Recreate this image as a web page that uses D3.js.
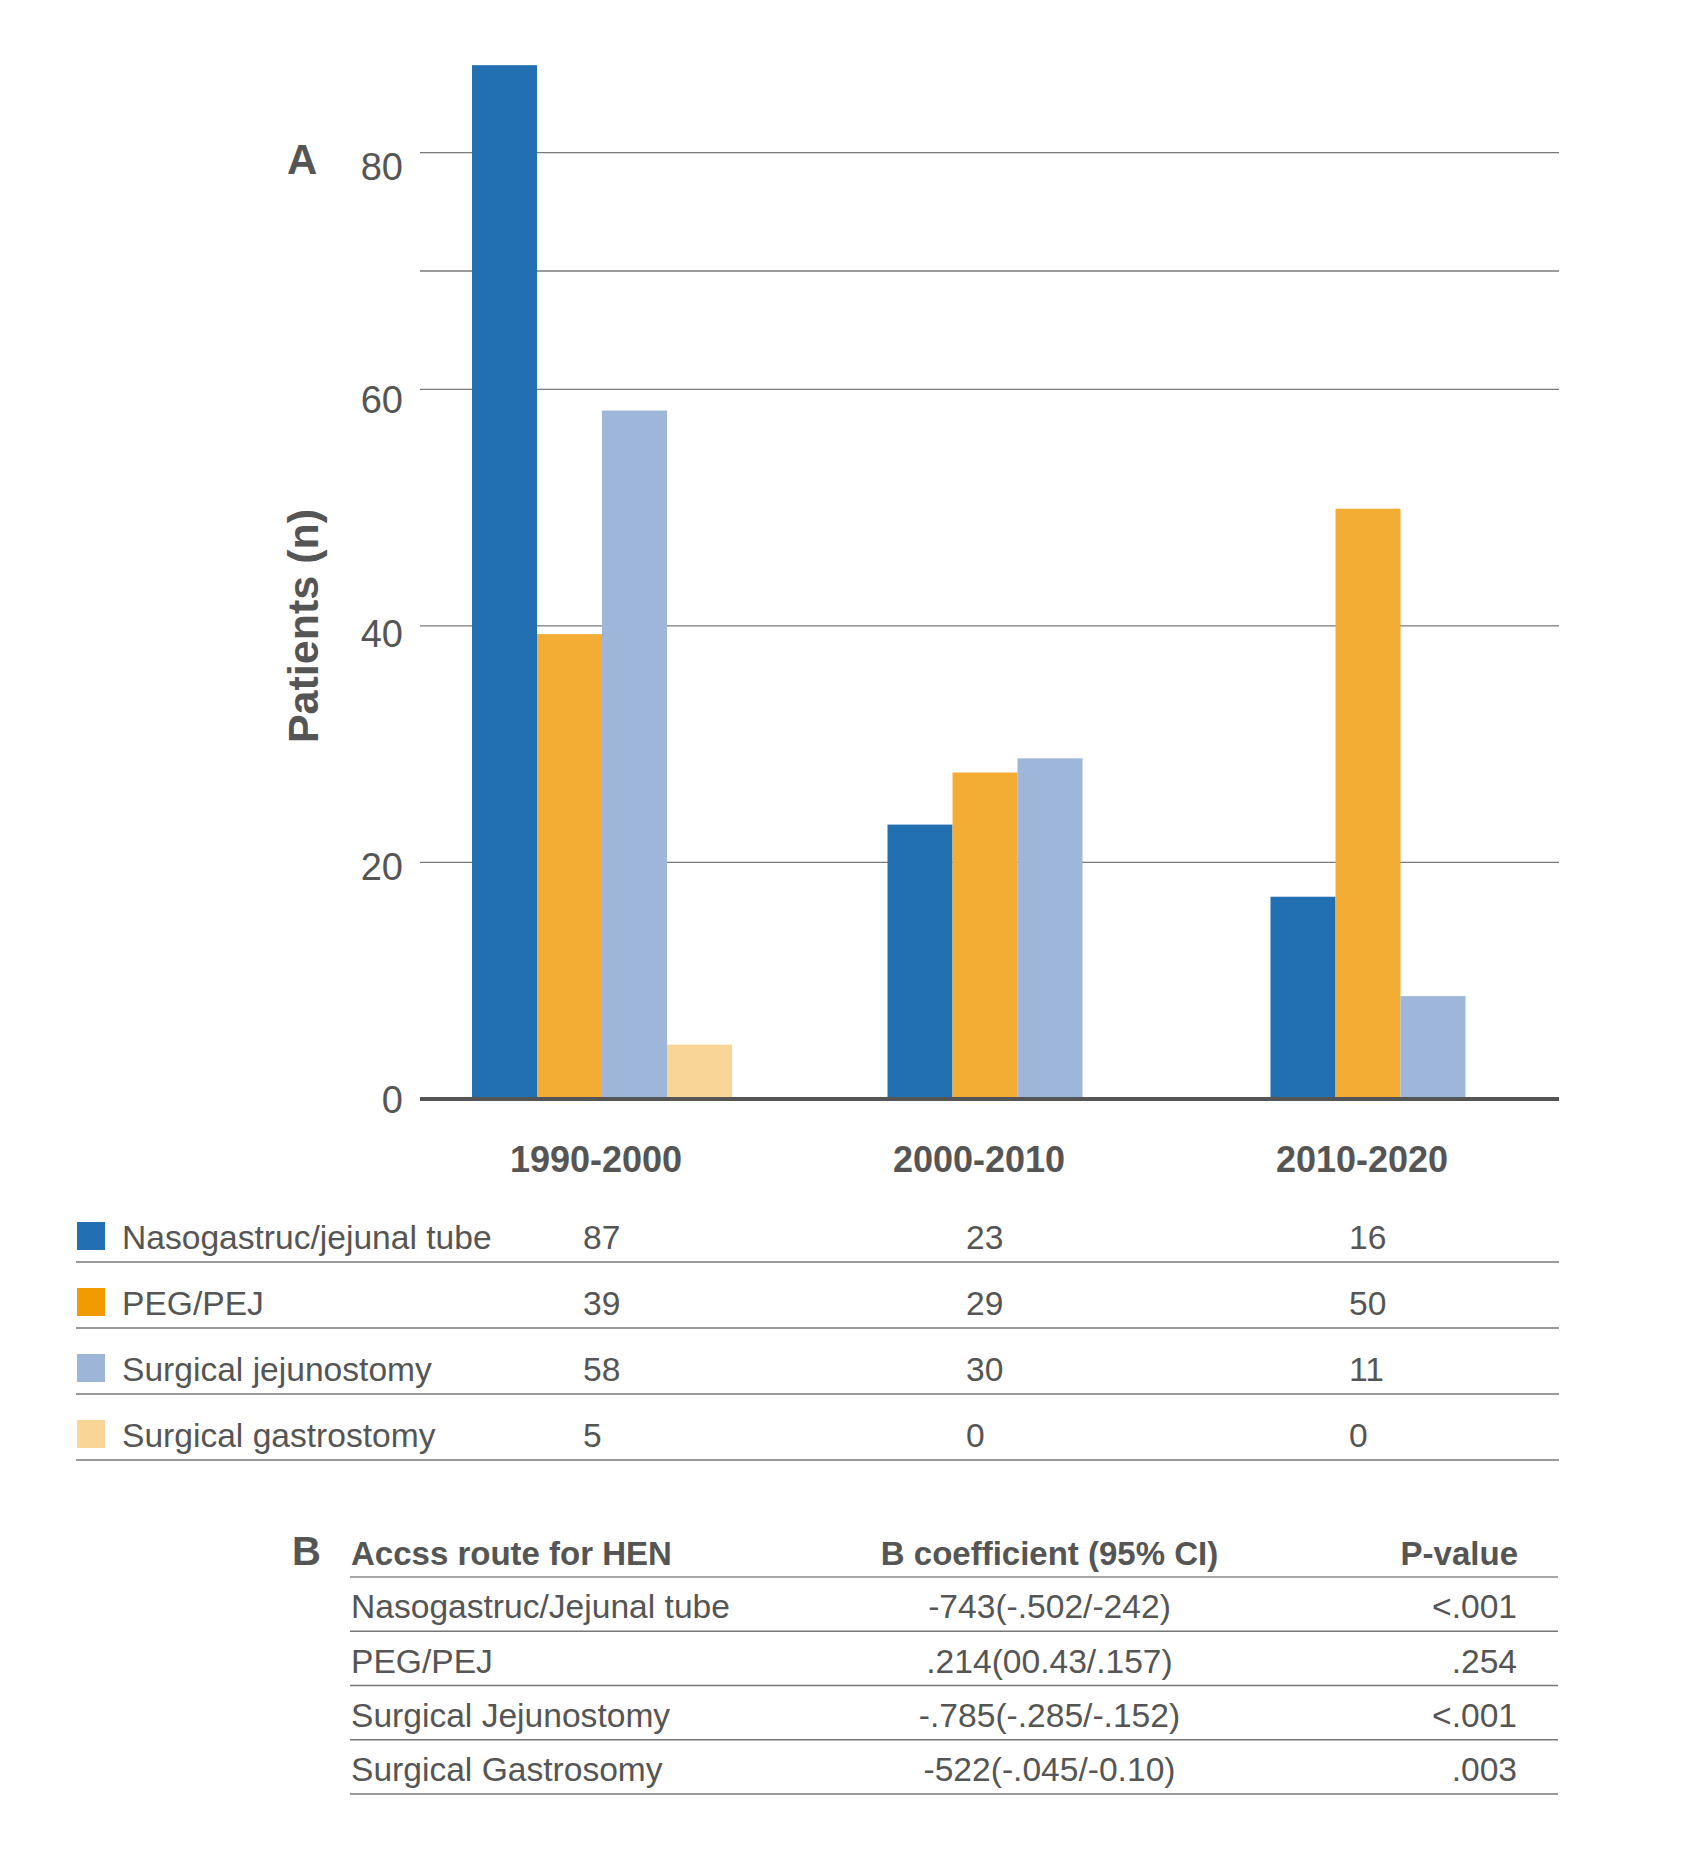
<!DOCTYPE html>
<html>
<head>
<meta charset="utf-8">
<script src="https://cdn.jsdelivr.net/npm/d3@7"></script>
<style>
  body { margin: 0; background: #fff; }
  text { font-family: "Liberation Sans", Arial, Helvetica, sans-serif; fill: #555; }
</style>
</head>
<body>
<div id="chart"></div>
<script>
// periods on the x axis
const periods = ['1990-2000', '2000-2010', '2010-2020'];
const routes = ['Nasogastruc/jejunal tube', 'PEG/PEJ', 'Surgical jejunostomy', 'Surgical gastrostomy'];
// bar heights as drawn (per route)
const nasoBars = [87.4, 23.2, 17.1];
const pegBars = [39.3, 27.6, 49.9];
const jejBars = [58.2, 28.8, 8.7];
const gastroBars = [4.6, 0, 0];
// counts printed in the table under the chart
const nasoCounts = [87, 23, 16];
const pegCounts = [39, 29, 50];
const jejCounts = [58, 30, 11];
const gastroCounts = [5, 0, 0];
const yTicks = [0, 20, 40, 60, 80];
const yGrid = [20, 40, 60, 70, 80];

// table B
const coefRoutes = ['Nasogastruc/Jejunal tube', 'PEG/PEJ', 'Surgical Jejunostomy', 'Surgical Gastrosomy'];
const coefValues = ['-743(-.502/-242)', '.214(00.43/.157)', '-.785(-.285/-.152)', '-522(-.045/-0.10)'];
const pValues = ['<.001', '.254', '<.001', '.003'];

const barColors = ['#2270b2', '#f3ac34', '#9db6d9', '#f9d598'];
const keyColors = ['#2270b2', '#f29b00', '#9db5d8', '#f9d698'];

const bars = [nasoBars, pegBars, jejBars, gastroBars];
const counts = [nasoCounts, pegCounts, jejCounts, gastroCounts];

const W = 1693, H = 1867;
const plot = { left: 420, right: 1559, top: 152.7, bottom: 1099 };
const bw = 65;

const svg = d3.select('#chart').append('svg')
  .attr('width', W).attr('height', H);

svg.append('rect').attr('width', W).attr('height', H).attr('fill', '#fff');

const y = d3.scaleLinear().domain([0, 80]).range([plot.bottom, plot.top]);
// tick labels sit on a slightly tighter scale than the grid
const yLab = d3.scaleLinear().domain([0, 80]).range([1099.5, 166.5]);
const x0 = d3.scalePoint().domain(periods).range([602, 1368]);

// gridlines
svg.append('g')
  .selectAll('line')
  .data(yGrid)
  .join('line')
    .attr('x1', plot.left).attr('x2', plot.right)
    .attr('y1', d => y(d)).attr('y2', d => y(d))
    .attr('stroke', '#7a7a7a').attr('stroke-width', 1.3);

// y tick labels
svg.append('g')
  .selectAll('text')
  .data(yTicks)
  .join('text')
    .attr('x', 403)
    .attr('y', d => yLab(d) + 13.6)
    .attr('text-anchor', 'end')
    .attr('font-size', 38)
    .text(d => d);

// bars, only non-zero routes are placed side by side in each group
const groups = svg.append('g')
  .selectAll('g')
  .data(periods)
  .join('g')
    .attr('transform', p => `translate(${x0(p)},0)`);

groups.each(function (p, gi) {
  const visible = d3.range(routes.length).filter(k => bars[k][gi] > 0);
  const inner = d3.scaleBand()
    .domain(visible)
    .range([-visible.length * bw / 2, visible.length * bw / 2]);
  d3.select(this).selectAll('rect')
    .data(visible)
    .join('rect')
      .attr('x', k => inner(k))
      .attr('width', inner.bandwidth())
      .attr('y', k => y(bars[k][gi]))
      .attr('height', k => y(0) - y(bars[k][gi]))
      .attr('fill', k => barColors[k]);
});

// baseline axis
svg.append('line')
  .attr('x1', plot.left).attr('x2', plot.right)
  .attr('y1', plot.bottom).attr('y2', plot.bottom)
  .attr('stroke', '#555').attr('stroke-width', 4);

// period labels
svg.append('g')
  .selectAll('text')
  .data(periods)
  .join('text')
    .attr('x', p => x0(p) - 6)
    .attr('y', 1172)
    .attr('text-anchor', 'middle')
    .attr('font-size', 36)
    .attr('font-weight', 700)
    .text(p => p);

// axis title and panel letter
svg.append('text')
  .attr('transform', 'translate(318,626) rotate(-90)')
  .attr('text-anchor', 'middle')
  .attr('font-size', 43)
  .attr('font-weight', 700)
  .text('Patients (n)');

svg.append('text')
  .attr('x', 287).attr('y', 174)
  .attr('font-size', 42).attr('font-weight', 700)
  .text('A');

// table A: legend + counts
const rowA = d3.scaleLinear().domain([0, 1]).range([1262, 1328]);
const tableA = svg.append('g')
  .selectAll('g')
  .data(routes)
  .join('g')
    .attr('transform', (d, i) => `translate(0,${rowA(i)})`);

tableA.append('rect')
  .attr('x', 77).attr('y', -40)
  .attr('width', 28).attr('height', 28)
  .attr('fill', (d, i) => keyColors[i]);

tableA.append('text')
  .attr('x', 122).attr('y', -13)
  .attr('font-size', 33.6)
  .text(d => d);

tableA.each(function (d, i) {
  d3.select(this).selectAll('text.count')
    .data(counts[i])
    .join('text')
      .attr('class', 'count')
      .attr('x', (v, j) => x0(periods[j]) - 19)
      .attr('y', -13)
      .attr('font-size', 33.6)
      .text(v => v);
});

tableA.append('line')
  .attr('x1', 76).attr('x2', 1559)
  .attr('stroke', '#777').attr('stroke-width', 1.5);

// table B: regression coefficients
svg.append('text')
  .attr('x', 292).attr('y', 1565)
  .attr('font-size', 40).attr('font-weight', 700)
  .text('B');

const headB = svg.append('g').attr('font-size', 33).attr('font-weight', 700);
headB.append('text').attr('x', 351).attr('y', 1565).text('Accss route for HEN');
headB.append('text').attr('x', 1049.5).attr('y', 1565).attr('text-anchor', 'middle')
  .text('B coefficient (95% CI)');
headB.append('text').attr('x', 1518).attr('y', 1565).attr('text-anchor', 'end').text('P-value');

const rowB = d3.scaleLinear().domain([0, 1]).range([1577, 1631.25]);

svg.append('line')
  .attr('x1', 350).attr('x2', 1558)
  .attr('y1', rowB(0)).attr('y2', rowB(0))
  .attr('stroke', '#888').attr('stroke-width', 1.5);

const tableB = svg.append('g')
  .selectAll('g')
  .data(coefRoutes)
  .join('g')
    .attr('transform', (d, i) => `translate(0,${rowB(i + 1)})`);

tableB.append('text')
  .attr('x', 351).attr('y', -13)
  .attr('font-size', 33.6)
  .text(d => d);

tableB.append('text')
  .attr('x', 1049.5).attr('y', -13)
  .attr('text-anchor', 'middle')
  .attr('font-size', 33.6)
  .text((d, i) => coefValues[i]);

tableB.append('text')
  .attr('x', 1517).attr('y', -13)
  .attr('text-anchor', 'end')
  .attr('font-size', 33.6)
  .text((d, i) => pValues[i]);

tableB.append('line')
  .attr('x1', 350).attr('x2', 1558)
  .attr('stroke', '#777').attr('stroke-width', 1.5);
</script>
</body>
</html>
